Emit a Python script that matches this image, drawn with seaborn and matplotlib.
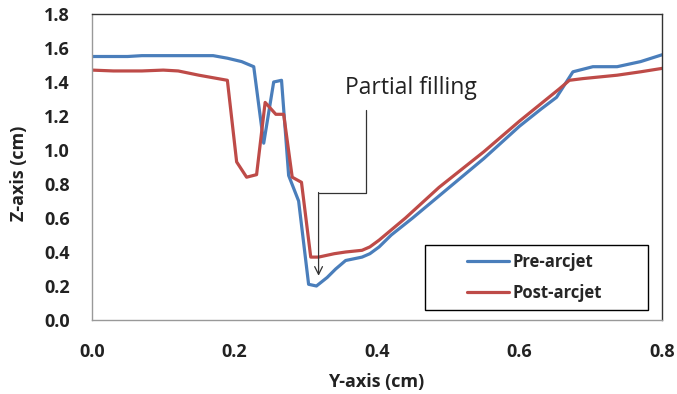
import numpy as np
import pandas as pd
import seaborn as sns
import matplotlib
matplotlib.use("Agg")
import matplotlib.pyplot as plt
from matplotlib.patches import Rectangle
from matplotlib.lines import Line2D

# ---- data ----
pre_x = [0.0, 0.05, 0.07, 0.17, 0.19, 0.21, 0.227, 0.241, 0.255, 0.266, 0.276, 0.29,
         0.304, 0.315, 0.33, 0.342, 0.356, 0.379, 0.39, 0.403, 0.42, 0.45, 0.5, 0.55,
         0.6, 0.63, 0.652, 0.675, 0.703, 0.737, 0.77, 0.8]
pre_z = [1.55, 1.55, 1.555, 1.555, 1.54, 1.52, 1.49, 1.04, 1.40, 1.41, 0.85, 0.70,
         0.21, 0.20, 0.25, 0.30, 0.35, 0.37, 0.39, 0.43, 0.50, 0.60, 0.775, 0.95,
         1.14, 1.24, 1.31, 1.46, 1.49, 1.49, 1.52, 1.56]
post_x = [0.0, 0.03, 0.07, 0.10, 0.121, 0.15, 0.19, 0.203, 0.217, 0.231, 0.243, 0.258,
          0.269, 0.281, 0.294, 0.307, 0.318, 0.34, 0.356, 0.379, 0.39, 0.403, 0.44,
          0.487, 0.55, 0.6, 0.656, 0.670, 0.689, 0.737, 0.77, 0.8]
post_z = [1.47, 1.465, 1.465, 1.47, 1.465, 1.44, 1.41, 0.93, 0.84, 0.855, 1.28, 1.21,
          1.21, 0.84, 0.81, 0.37, 0.37, 0.39, 0.40, 0.41, 0.43, 0.47, 0.60,
          0.78, 0.99, 1.17, 1.36, 1.41, 1.42, 1.44, 1.46, 1.48]
series_names = ["Pre-arcjet", "Post-arcjet"]
series_colors = ["#4A7EBB", "#BE4B48"]
x_ticks = [0.0, 0.2, 0.4, 0.6, 0.8]
y_ticks = [0.0, 0.2, 0.4, 0.6, 0.8, 1.0, 1.2, 1.4, 1.6, 1.8]
annot_text = "Partial filling"

df = pd.concat([
    pd.DataFrame({"y": pre_x, "z": pre_z, "series": series_names[0]}),
    pd.DataFrame({"y": post_x, "z": post_z, "series": series_names[1]}),
], ignore_index=True)

sns.set_theme(style="white")
plt.rcParams["font.family"] = ["Open Sans", "DejaVu Sans"]

fig = plt.figure(figsize=(6.77, 3.94), dpi=100)
ax = fig.add_axes([92 / 677, 1 - 320 / 394, 570 / 677, 306 / 394])

sns.lineplot(data=df, x="y", y="z", hue="series", palette=series_colors,
             sort=False, linewidth=2.3, ax=ax, legend=False)

ax.set_xlim(0, 0.8)
ax.set_ylim(0, 1.8)
ax.set_xticks(x_ticks)
ax.set_xticklabels([f"{v:.1f}" for v in x_ticks])
ax.set_yticks(y_ticks)
ax.set_yticklabels([f"{v:.1f}" for v in y_ticks])
ax.tick_params(axis="both", length=0, labelsize=13, colors="#222222")
ax.tick_params(axis="x", pad=16.5)
ax.tick_params(axis="y", pad=16)
for lab in ax.get_xticklabels() + ax.get_yticklabels():
    lab.set_fontweight("bold")
ax.set_xlabel("Y-axis (cm)", fontsize=13, fontweight="bold", color="#222222")
ax.set_ylabel("Z-axis (cm)", fontsize=13, fontweight="bold", color="#222222")
ax.xaxis.set_label_coords(0.498, -0.172)
ax.yaxis.set_label_coords(-0.112, 0.48)

for side in ["left", "bottom"]:
    ax.spines[side].set_color("#999999")
    ax.spines[side].set_linewidth(1.0)
for side in ["top", "right"]:
    ax.spines[side].set_color("#333333")
    ax.spines[side].set_linewidth(1.0)

# annotation: bent connector with open arrowhead
ax.plot([0.385, 0.385, 0.318], [1.235, 0.75, 0.75], color="#333333", lw=0.9)
ax.annotate("", xy=(0.318, 0.26), xytext=(0.318, 0.75),
            arrowprops=dict(arrowstyle="->", color="#333333", lw=0.9,
                            shrinkA=0, shrinkB=0, mutation_scale=14))
ax.text(0.355, 1.365, annot_text, fontsize=16.5, color="#222222", va="center", ha="left")

# legend with a rectangular frame
ax.add_patch(Rectangle((0.584, 0.033), 0.391, 0.212, transform=ax.transAxes,
                       fill=False, edgecolor="black", lw=1.0, zorder=5))
handles = [Line2D([], [], color=c, lw=2.3) for c in series_colors]
leg = ax.legend(handles, series_names, loc="center", bbox_to_anchor=(0.776, 0.139),
                frameon=False, prop={"weight": "bold", "size": 12},
                handlelength=2.5, handletextpad=0.2, labelspacing=0.75)

fig.savefig("out.png", dpi=100)
